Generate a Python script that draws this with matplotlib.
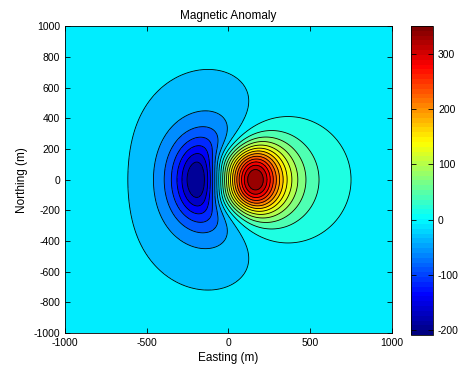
import numpy as np
import matplotlib
matplotlib.use("Agg")
import matplotlib.pyplot as plt
from matplotlib import cm, colors

# survey grid (m)
easting = np.linspace(-1000, 1000, 201)
northing = np.linspace(-1000, 1000, 201)

# source model (thin magnetised plate), fitted to the picture
depth = 200.0            # m
half_width_e = 150.0     # m
half_width_n = 150.0     # m
field_incl = 30.0        # deg
magn_incl = 60.0         # deg
peak_nT = 351.0          # max / min
trough_nT = -209.0
n_levels = 20

x_ticks = [-1000, -500, 0, 500, 1000]
y_ticks = [-1000, -800, -600, -400, -200, 0, 200, 400, 600, 800, 1000]
cbar_ticks = [-200, -100, 0, 100, 200, 300]

# MATLAB style jet
jet_anchors = [(0, 0, 0.5), (0, 0, 1), (0, 1, 1), (1, 1, 0), (1, 0, 0), (0.5, 0, 0)]
jet_pos = [0, 1/8, 3/8, 5/8, 7/8, 1]


def dipole_tensor(x, y, d):
    r2 = x**2 + y**2 + d**2
    r = np.sqrt(r2)
    rx, rz = x / r, -d / r
    r3 = r2 * r
    return (3*rx*rx - 1) / r3, 3*rx*rz / r3, (3*rz*rz - 1) / r3


def plate_anomaly(X, Y, n=11):
    fx, fz = -np.cos(np.radians(field_incl)), np.sin(np.radians(field_incl))
    mx, mz = -np.cos(np.radians(magn_incl)), np.sin(np.radians(magn_incl))
    out = np.zeros_like(X)
    for a in np.linspace(-half_width_e, half_width_e, n):
        for b in np.linspace(-half_width_n, half_width_n, n):
            txx, txz, tzz = dipole_tensor(X - a, Y - b, depth)
            out += fx*mx*txx + (fx*mz + fz*mx)*txz + fz*mz*tzz
    return out


X, Y = np.meshgrid(easting, northing)
F = plate_anomaly(X, Y)
# amplitude + regional baseline so that the range matches the colour bar
F = F / F.max()
amp = (peak_nT - trough_nT) / (1 - F.min())
Z = amp * F + (peak_nT - amp)

zmin, zmax = Z.min(), Z.max()
levels = np.linspace(zmin, zmax, n_levels + 2)
cmap = colors.LinearSegmentedColormap.from_list('mjet', list(zip(jet_pos, jet_anchors)), N=256)
norm = colors.Normalize(vmin=zmin, vmax=zmax)

plt.rcParams['font.family'] = ['Liberation Sans', 'DejaVu Sans']
plt.rcParams['font.size'] = 7.5
plt.rcParams['axes.unicode_minus'] = False

fig = plt.figure(figsize=(4.63, 3.71), dpi=100)
ax = fig.add_axes([0.140, 0.102, 0.706, 0.827])
ax.contourf(X, Y, Z, levels=levels, cmap=cmap, norm=norm)
ax.contour(X, Y, Z, levels=levels[1:-1], colors='k', linewidths=0.6,
           linestyles='solid')

ax.set_xlim(-1000, 1000)
ax.set_ylim(-1000, 1000)
ax.set_xticks(x_ticks)
ax.set_yticks(y_ticks)
ax.tick_params(direction='in', top=True, right=True, length=3.5, width=0.6)
ax.set_xlabel('Easting (m)', fontsize=8.5, labelpad=3)
ax.set_ylabel('Northing (m)', fontsize=8.5)
ax.set_title('Magnetic Anomaly', fontsize=8.5, pad=5)
for sp in ax.spines.values():
    sp.set_linewidth(0.6)

cax = fig.add_axes([0.888, 0.097, 0.0475, 0.833])
sm = cm.ScalarMappable(norm=norm, cmap=colors.LinearSegmentedColormap.from_list(
    'mjet64', list(zip(jet_pos, jet_anchors)), N=64))
cb = fig.colorbar(sm, cax=cax)
cb.set_ticks(cbar_ticks)
cax.tick_params(direction='in', left=True, right=True, length=3.5, width=0.6)
cb.outline.set_linewidth(0.6)

fig.savefig('out.png', dpi=100, facecolor='white')
